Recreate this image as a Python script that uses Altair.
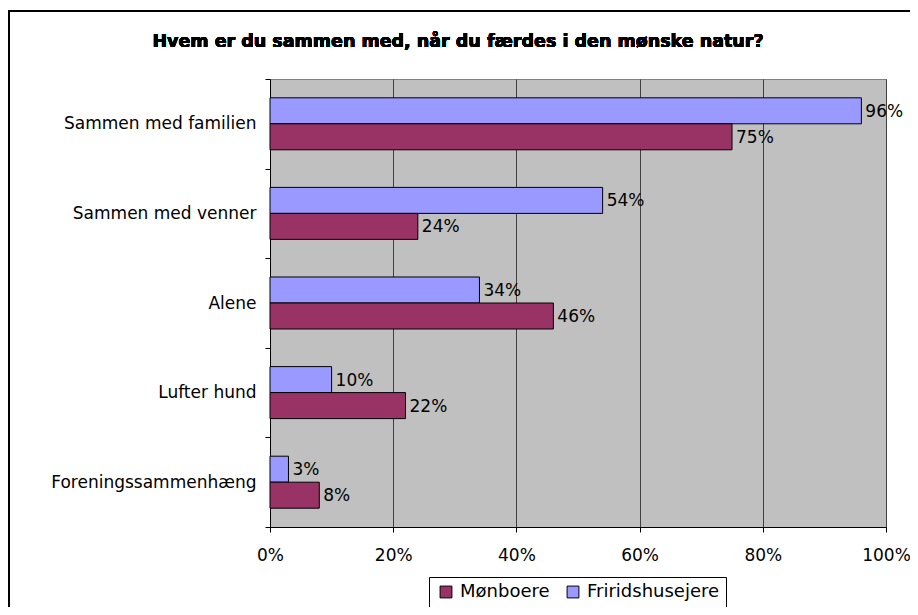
import altair as alt
import pandas as pd

categories = ["Sammen med familien", "Sammen med venner", "Alene", "Lufter hund", "Foreningssammenhæng"]
series = ["Mønboere", "Friridshusejere"]
monboere = [75, 24, 46, 22, 8]
friridshusejere = [96, 54, 34, 10, 3]
x_ticks = [0, 20, 40, 60, 80, 100]
title_text = "Hvem er du sammen med, når du færdes i den mønske natur?"

rows = []
for c, m, f in zip(categories, monboere, friridshusejere):
    rows.append({"cat": c, "series": "Friridshusejere", "val": f, "lbl": f"{f}%"})
    rows.append({"cat": c, "series": "Mønboere", "val": m, "lbl": f"{m}%"})
df = pd.DataFrame(rows)

FONT = "DejaVu Sans"
FS = 17
W, H = 616, 448

y_enc = alt.Y("cat:N", sort=categories, title=None,
              scale=alt.Scale(paddingInner=0, paddingOuter=0),
              axis=alt.Axis(tickBand="extent", tickSize=5, labelPadding=9,
                            labelFontSize=FS, labelFont=FONT, labelColor="black",
                            labelLimit=400,
                            domainColor="black", tickColor="black", grid=False))
yoff_enc = alt.YOffset("series:N", sort=["Friridshusejere", "Mønboere"],
                       scale=alt.Scale(paddingInner=0, paddingOuter=0.723))
x_enc = alt.X("val:Q", title=None,
              scale=alt.Scale(domain=[0, 100], nice=False),
              axis=alt.Axis(values=x_ticks, labelExpr="datum.value + '%'",
                            tickSize=5, labelPadding=15, labelFontSize=FS,
                            labelFont=FONT, labelColor="black", labelFlush=False,
                            domainColor="black", tickColor="black",
                            grid=True, gridColor="#404040", gridWidth=1))
color_enc = alt.Color("series:N",
                      scale=alt.Scale(domain=series, range=["#993366", "#9999FF"]),
                      legend=alt.Legend(title=None, orient="none", direction="horizontal",
                                        legendX=159, legendY=498,
                                        symbolType="square", symbolSize=140,
                                        symbolStrokeColor="black", symbolStrokeWidth=1,
                                        labelFontSize=18, labelFont=FONT, labelColor="black",
                                        strokeColor="black", padding=6, columnPadding=12,
                                        symbolOffset=2, labelOffset=5))

bars = alt.Chart(df).mark_bar(stroke="black", strokeWidth=1).encode(
    x=x_enc, y=y_enc, yOffset=yoff_enc, color=color_enc)

labels = alt.Chart(df).mark_text(align="left", baseline="middle", dx=4, dy=1,
                                 fontSize=FS, font=FONT, color="black").encode(
    x="val:Q", y=alt.Y("cat:N", sort=categories), yOffset=yoff_enc, text="lbl:N")

title = alt.Chart(df).mark_text(fontSize=17.5, font=FONT, fontWeight="bold",
                                color="black", align="center", baseline="middle").encode(
    x=alt.value(188), y=alt.value(-37), text=alt.value(title_text))

border = alt.Chart(df).mark_rect(fill=None, stroke="black", strokeWidth=1.5).encode(
    x=alt.value(-261), x2=alt.value(W + 40), y=alt.value(-68), y2=alt.value(H + 100))

chart = alt.layer(border, bars, labels, title).properties(
    width=W, height=H,
    autosize=alt.AutoSizeParams(type="none"),
    padding={"left": 262, "top": 71, "right": 24, "bottom": 80},
    background="white",
).configure_view(fill="#C0C0C0", stroke="#808080", strokeWidth=1
).configure_axis(labelFont=FONT)

chart.save("out.html", embed_options={"renderer": "svg", "actions": False})
